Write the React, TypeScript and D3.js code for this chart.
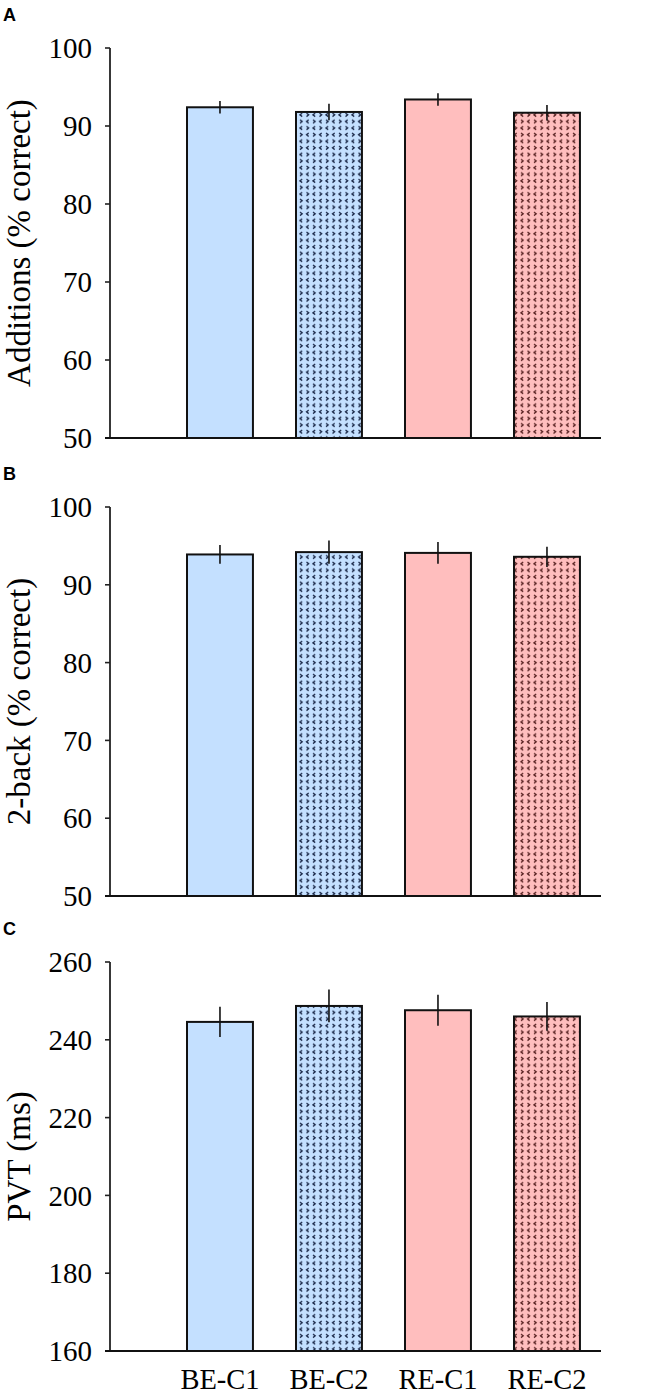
import React from "react";
import * as d3 from "d3";

const categories = ["BE-C1", "BE-C2", "RE-C1", "RE-C2"];
const additionsMean = [92.4, 91.8, 93.4, 91.7];
const additionsErr = [0.8, 1.05, 0.8, 1.0];
const twoBackMean = [93.9, 94.2, 94.1, 93.6];
const twoBackErr = [1.2, 1.5, 1.4, 1.3];
const pvtMean = [244.6, 248.7, 247.6, 246.0];
const pvtErr = [3.9, 4.2, 4.0, 3.7];
const additionsTicks = [50, 60, 70, 80, 90, 100];
const twoBackTicks = [50, 60, 70, 80, 90, 100];
const pvtTicks = [160, 180, 200, 220, 240, 260];

const W = 656;
const H = 1396;
const AXIS_X = 110;
const RIGHT_X = 601;

const BLUE = "#C4E0FF";
const PINK = "#FFBEBE";
const fills = [BLUE, "url(#patBlue)", PINK, "url(#patPink)"];

type Panel = {
  letter: string;
  title: string;
  mean: number[];
  err: number[];
  ticks: number[];
  top: number;
  bottom: number;
};

const panels: Panel[] = [
  { letter: "A", title: "Additions (% correct)", mean: additionsMean, err: additionsErr, ticks: additionsTicks, top: 48, bottom: 438 },
  { letter: "B", title: "2-back (% correct)", mean: twoBackMean, err: twoBackErr, ticks: twoBackTicks, top: 507, bottom: 896 },
  { letter: "C", title: "PVT (ms)", mean: pvtMean, err: pvtErr, ticks: pvtTicks, top: 962, bottom: 1351 },
];

const serif = "'Liberation Serif', 'Times New Roman', serif";

// band scale: step 109, bars 66 wide, first bar at x=187
const STEP = 109;
const PAD_IN = 0.395;
const PAD_OUT = 0.3;
const X0 = 187 - PAD_OUT * STEP;
const X1 = X0 + STEP * (categories.length - PAD_IN + 2 * PAD_OUT);

function makeX() {
  return d3.scaleBand<string>().domain(categories).range([X0, X1]).paddingInner(PAD_IN).paddingOuter(PAD_OUT);
}

function Pattern({ id, bg, fg }: { id: string; bg: string; fg: string }) {
  const chev = (x: number, y: number, right: boolean) =>
    right
      ? `M${x},${y} L${x + 2.2},${y + 1.7} L${x},${y + 3.4}`
      : `M${x + 2.2},${y} L${x},${y + 1.7} L${x + 2.2},${y + 3.4}`;
  const d = [
    chev(1, 1, true),
    chev(7.5, 1, false),
    chev(1, 7.6, false),
    chev(7.5, 7.6, true),
  ].join(" ");
  return (
    <pattern id={id} width={13} height={13.2} patternUnits="userSpaceOnUse">
      <rect width={13} height={13.2} fill={bg} />
      <path d={d} fill="none" stroke={fg} strokeWidth={1.3} />
    </pattern>
  );
}

function ChartPanel({ p }: { p: Panel }) {
  const x = makeX();
  const y = d3.scaleLinear().domain([p.ticks[0], p.ticks[p.ticks.length - 1]]).range([p.bottom, p.top]);
  const bw = x.bandwidth();
  return (
    <g>
      <text x={3} y={p.top - 27} fontFamily="'Liberation Sans', Arial, sans-serif" fontWeight="bold" fontSize={18}>
        {p.letter}
      </text>
      <text
        transform={`translate(30,${(p.top + p.bottom) / 2}) rotate(-90)`}
        textAnchor="middle"
        fontFamily={serif}
        fontSize={33}
      >
        {p.title}
      </text>
      {p.ticks.map((t) => (
        <g key={t}>
          <line x1={AXIS_X - 5} x2={AXIS_X} y1={y(t)} y2={y(t)} stroke="#222" strokeWidth={1.6} />
          <text x={AXIS_X - 18} y={y(t)} dy="0.35em" textAnchor="end" fontFamily={serif} fontSize={29}>
            {t}
          </text>
        </g>
      ))}
      {categories.map((c, i) => {
        const x0 = x(c)!;
        const yt = y(p.mean[i]);
        const cx = x0 + bw / 2;
        return (
          <g key={c}>
            <rect x={x0} y={yt} width={bw} height={p.bottom - yt} fill={fills[i]} stroke="#111" strokeWidth={2} />
            <line x1={cx} x2={cx} y1={y(p.mean[i] + p.err[i])} y2={y(p.mean[i] - p.err[i])} stroke="#111" strokeWidth={1.6} />
          </g>
        );
      })}
      <line x1={AXIS_X} x2={AXIS_X} y1={p.top} y2={p.bottom} stroke="#222" strokeWidth={1.8} />
      <line x1={AXIS_X - 5} x2={RIGHT_X} y1={p.bottom} y2={p.bottom} stroke="#111" strokeWidth={1.8} />
    </g>
  );
}

export default function App() {
  const last = panels[panels.length - 1];
  const x = makeX();
  return (
    <svg width={W} height={H} style={{ position: "absolute", left: 0, top: 0, background: "#fff" }}>
      <defs>
        <Pattern id="patBlue" bg={BLUE} fg="#1c2a4a" />
        <Pattern id="patPink" bg={PINK} fg="#5a2424" />
      </defs>
      <rect width={W} height={H} fill="#fff" />
      {panels.map((p) => (
        <ChartPanel key={p.letter} p={p} />
      ))}
      {categories.map((c) => (
        <text key={c} x={x(c)! + x.bandwidth() / 2} y={last.bottom + 38} textAnchor="middle" fontFamily={serif} fontSize={28.5}>
          {c}
        </text>
      ))}
    </svg>
  );
}
